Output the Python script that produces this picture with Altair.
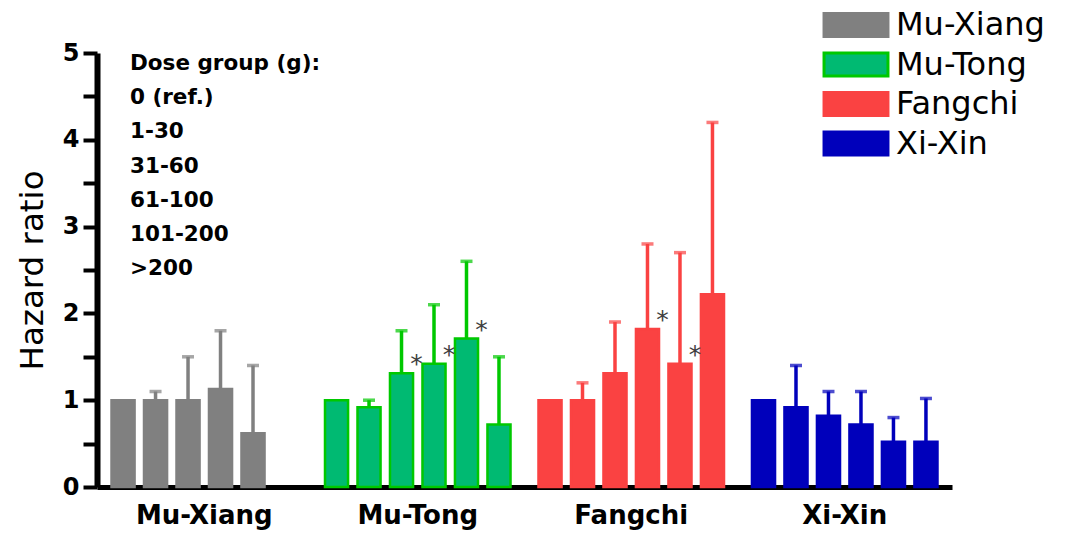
import altair as alt
import pandas as pd

herbs = ["Mu-Xiang", "Mu-Tong", "Fangchi", "Xi-Xin"]
dose_groups = ["0 (ref.)", "1-30", "31-60", "61-100", "101-200", ">200"]

mu_xiang_hr = [1.0, 1.0, 1.0, 1.13, 0.62]
mu_xiang_upper = [None, 1.1, 1.5, 1.8, 1.4]
mu_xiang_sig = [0, 0, 0, 0, 0]

mu_tong_hr = [1.0, 0.92, 1.31, 1.42, 1.71, 0.72]
mu_tong_upper = [None, 1.0, 1.8, 2.1, 2.6, 1.5]
mu_tong_sig = [0, 0, 1, 1, 1, 0]

fangchi_hr = [1.0, 1.0, 1.31, 1.82, 1.42, 2.22]
fangchi_upper = [None, 1.2, 1.9, 2.8, 2.7, 4.2]
fangchi_sig = [0, 0, 0, 1, 1, 0]

xi_xin_hr = [1.0, 0.92, 0.82, 0.72, 0.52, 0.52]
xi_xin_upper = [None, 1.4, 1.1, 1.1, 0.8, 1.02]
xi_xin_sig = [0, 0, 0, 0, 0, 0]

fills = ["#808080", "#00ba72", "#fa4242", "#0000bb"]
strokes = ["#808080", "#00c800", "#fa4242", "#0000bb"]

rows = []
for herb, hr, up, sig in [
    ("Mu-Xiang", mu_xiang_hr, mu_xiang_upper, mu_xiang_sig),
    ("Mu-Tong", mu_tong_hr, mu_tong_upper, mu_tong_sig),
    ("Fangchi", fangchi_hr, fangchi_upper, fangchi_sig),
    ("Xi-Xin", xi_xin_hr, xi_xin_upper, xi_xin_sig),
]:
    for i, v in enumerate(hr):
        rows.append({"herb": herb, "dose": dose_groups[i], "hr": v,
                     "upper": up[i], "sig": sig[i]})
df = pd.DataFrame(rows)
eb = df[df["upper"].notna()]
sg = df[df["sig"] == 1]

FONT = "DejaVu Sans"

x_enc = alt.X("herb:N", sort=herbs,
              scale=alt.Scale(paddingInner=0.131, paddingOuter=0.068),
              axis=alt.Axis(title=None, labelAngle=0, labelFont=FONT,
                            labelFontSize=26, labelFontWeight="bold",
                            labelColor="black", ticks=False, tickSize=0,
                            labelPadding=15, domainColor="black",
                            domainWidth=5))
xo_enc = alt.XOffset("dose:N", sort=dose_groups,
                     scale=alt.Scale(domain=dose_groups, paddingInner=0.29,
                                     paddingOuter=0))
y_scale = alt.Scale(domain=[0, 5], nice=False)
y_enc = alt.Y("hr:Q", scale=y_scale,
              axis=alt.Axis(title="Hazard ratio", values=[i * 0.5 for i in range(11)],
                            labelExpr="datum.value % 1 === 0 ? format(datum.value, 'd') : ''",
                            labelFont=FONT, labelFontSize=24,
                            labelFontWeight="bold", labelColor="black",
                            labelPadding=4, tickSize=14, tickWidth=4,
                            tickColor="black", domainColor="black",
                            domainWidth=6, grid=False, titleFont=FONT,
                            titleFontSize=32.5, titleFontWeight="normal",
                            titleColor="black", titleX=-55, titleY=217,
                            titleAngle=270, titleAlign="center",
                            titleBaseline="alphabetic"))

leg = alt.Legend(title=None, orient="none", legendX=743, legendY=-44,
                 labelFont=FONT, labelFontSize=32, labelColor="black",
                 symbolType="M-2.78,-1H2.78V1H-2.78Z", symbolSize=529,
                 symbolStrokeWidth=3, labelOffset=24, rowPadding=3.5)

bars = alt.Chart(df).mark_bar(strokeWidth=2.5).encode(
    x=x_enc, xOffset=xo_enc, y=y_enc,
    fill=alt.Fill("herb:N", scale=alt.Scale(domain=herbs, range=fills), legend=leg),
    stroke=alt.Stroke("herb:N", scale=alt.Scale(domain=herbs, range=strokes), legend=leg),
)

stems = alt.Chart(eb).mark_rule(strokeWidth=3.5).encode(
    x=alt.X("herb:N", sort=herbs), xOffset=alt.XOffset("dose:N", sort=dose_groups),
    y=alt.Y("hr:Q", scale=y_scale), y2="upper:Q",
    color=alt.Color("herb:N", scale=alt.Scale(domain=herbs, range=strokes), legend=None),
)

caps = alt.Chart(eb).mark_tick(thickness=3.5, size=12).encode(
    x=alt.X("herb:N", sort=herbs), xOffset=alt.XOffset("dose:N", sort=dose_groups),
    y=alt.Y("upper:Q", scale=y_scale),
    color=alt.Color("herb:N", scale=alt.Scale(domain=herbs, range=strokes), legend=None),
)

stars = alt.Chart(sg).mark_text(text="*", font=FONT, fontSize=25, color="#404040",
                                dx=15, dy=-1, baseline="alphabetic").encode(
    x=alt.X("herb:N", sort=herbs), xOffset=alt.XOffset("dose:N", sort=dose_groups),
    y=alt.Y("hr:Q", scale=y_scale),
)

note_text = "\n".join(["Dose group (g):"] + dose_groups)
note = alt.Chart(pd.DataFrame({"t": [note_text]})).mark_text(
    font=FONT, fontSize=21.5, fontWeight="bold", color="black", align="left",
    baseline="alphabetic", lineBreak="\n", lineHeight=34.2
).encode(text="t:N", x=alt.value(33), y=alt.value(17))

chart = alt.layer(bars, stems, caps, stars, note).properties(
    width=855, height=434,
    autosize=alt.AutoSizeParams(type="none"),
    padding={"left": 97, "top": 53, "right": 116, "bottom": 51},
    background="white",
).configure_view(stroke=None)

chart.save("out.html", embed_options={"renderer": "svg", "actions": False})
